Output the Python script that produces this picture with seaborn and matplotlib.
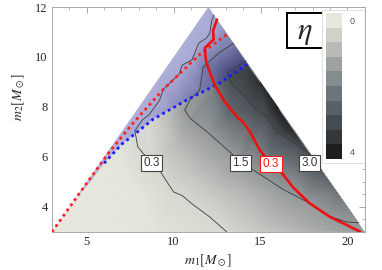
import numpy as np
import matplotlib
matplotlib.use("Agg")
import matplotlib.pyplot as plt
import matplotlib.tri as mtri
from matplotlib.colors import LinearSegmentedColormap, ListedColormap
from matplotlib.patches import Polygon, Rectangle
from matplotlib.ticker import MultipleLocator
import seaborn as sns

sns.set_theme(style="white")
plt.rcParams["font.family"] = ["Liberation Serif", "DejaVu Serif"]
plt.rcParams["mathtext.fontset"] = "stix"

# ---------------------------
# DATA
# ---------------------------
dom_m1 = [3, 12, 21]
dom_m2 = [3, 12, 3]

# eta contour lines
c03_m1 = [13.06, 12.08, 11.1, 10.5, 10.0, 9.2, 8.75, 8.23, 7.94, 7.77, 8.2, 8.6, 9.2, 9.4,
          10.3, 10.5, 11.05, 11.45, 11.9, 12.08, 12.2, 12.32]
c03_m2 = [3.0, 3.6, 4.1, 4.45, 4.6, 5.45, 5.76, 6.16, 6.4, 7.05, 7.48, 7.7, 8.28, 8.7,
          9.3, 9.68, 9.88, 10.56, 10.76, 10.96, 11.48, 11.68]
c15_m1 = [20.65, 19.95, 19.0, 17.8, 16.3, 15.2, 14.4, 13.86, 13.3, 12.0, 10.93, 10.64,
          10.93, 11.5, 11.6, 11.7, 12.6, 13.45]
c15_m2 = [3.36, 3.4, 3.62, 4.16, 4.7, 5.2, 5.56, 5.76, 6.16, 6.96, 7.56, 7.88,
          8.28, 8.68, 9.16, 9.6, 10.16, 10.55]
c30_m1 = [18.24, 17.7, 16.85, 15.9, 15.35, 14.6, 13.9, 13.3, 13.1, 14.15]
c30_m2 = [5.76, 6.2, 6.6, 7.0, 7.6, 8.0, 8.56, 8.96, 9.36, 9.85]
levels = [0.3, 1.5, 3.0]

# extra eta samples (edges and interior)
anc_m1 = [3, 6, 9, 11, 15, 17.5, 19.5, 21, 5, 7, 8.5, 10, 11.5, 12, 19.5, 17, 16, 15, 12.9,
          6, 8, 7, 9.9, 10.2, 11.2, 12.0, 14.5, 17.0, 19.0, 15.5, 13.0, 12.3, 12.4, 12.0, 16.2, 14.3]
anc_m2 = [3, 3, 3, 3, 3, 3, 3, 3, 5, 7, 8.5, 10, 11.5, 12, 4.5, 7, 8, 9, 11.1,
          4, 4.5, 5.5, 7.6, 6.5, 5.2, 4.5, 4.5, 5.3, 4.5, 6.0, 7.5, 8.5, 9.6, 10.4, 7.6, 9.4]
anc_eta = [0, 0, 0.08, 0.18, 0.6, 1.0, 1.3, 1.55, 0, 0.1, 0.1, 0.12, 0.15, 0.2, 2.2, 3.8, 4.0, 3.7, 0.9,
           0, 0.05, 0.05, 0.95, 0.86, 0.67, 0.55, 1.0, 2.0, 2.0, 2.2, 2.2, 2.05, 2.05, 0.8, 3.8, 3.4]

# red contour (other quantity, level 0.3)
red_m1 = [12.5, 12.27, 12.3, 11.8, 11.85, 11.97, 12.37, 12.95, 13.7, 14.0, 14.4, 14.95, 15.6,
          16.1, 16.85, 17.8, 19.0, 19.95, 20.75]
red_m2 = [11.5, 11.05, 10.7, 10.36, 9.9, 9.6, 8.88, 8.2, 7.56, 7.4, 7.0, 6.28, 5.72,
          5.48, 4.8, 4.16, 3.6, 3.28, 3.0]

# dotted boundaries
rdot_m1 = [3.0, 5.0, 6.3, 7.6, 9.4, 11.5, 13.06]
rdot_m2 = [3.0, 4.95, 6.2, 7.3, 8.7, 10.1, 10.9]
bdot_m1 = [6.0, 7.0, 8.06, 8.8, 10.76, 12.66, 14.27]
bdot_m2 = [5.75, 6.5, 7.08, 7.5, 8.28, 8.96, 9.73]
band_m1 = [4.3, 5.2]
band_m2 = [4.3, 5.0]

swatches = ["#e6e7dd", "#cfd1cb", "#b8bab6", "#9ea2a2", "#868c8e",
            "#6e757a", "#5a6066", "#464b50", "#33373a", "#1e1e1e"]
cbar_labels = ["0", "4"]

# ---------------------------
# PLOT
# ---------------------------
fig = plt.figure(figsize=(3.82, 2.70), dpi=100)
ax = fig.add_axes([0.136, 0.141, 0.819, 0.833])

fx = c03_m1 + c15_m1 + c30_m1 + anc_m1
fy = c03_m2 + c15_m2 + c30_m2 + anc_m2
fz = [levels[0]] * len(c03_m1) + [levels[1]] * len(c15_m1) + [levels[2]] * len(c30_m1) + anc_eta

cmap = LinearSegmentedColormap.from_list("graytones", swatches)
tri = mtri.Triangulation(fx, fy)
tpc = ax.tripcolor(tri, np.array(fz), cmap=cmap, vmin=0, vmax=4, shading="gouraud", zorder=1)
domain = Polygon(np.column_stack([dom_m1, dom_m2]), closed=True, transform=ax.transData)
tpc.set_clip_path(domain)

# blue shaded band: lower curve, then up the right edge to the apex, back down the diagonal
poly_x = band_m1 + bdot_m1 + [dom_m1[1]]
poly_y = band_m2 + bdot_m2 + [dom_m2[1]]
ax.fill(poly_x, poly_y, color=(0.25, 0.25, 0.85), alpha=0.3, lw=0, zorder=2)

for cx, cy in [(c03_m1, c03_m2), (c15_m1, c15_m2), (c30_m1, c30_m2)]:
    ax.plot(cx, cy, color="#3c3c3c", lw=0.6, zorder=3)

ax.plot(rdot_m1, rdot_m2, color="#ff2020", lw=2.0, ls=(0, (1, 1.3)), zorder=4)
ax.plot(bdot_m1, bdot_m2, color="#1a1aff", lw=2.0, ls=(0, (1, 1.3)), zorder=4)
ax.plot(red_m1, red_m2, color="#ee1111", lw=1.9, zorder=5)

lab_kw = dict(ha="center", va="center", fontsize=8.5, family=["Liberation Sans", "DejaVu Sans"], zorder=6)
for x, y, s in [(8.75, 5.76, "0.3"), (13.86, 5.76, "1.5"), (17.83, 5.76, "3.0")]:
    ax.text(x, y, s, color="#333333",
            bbox=dict(boxstyle="square,pad=0.2", fc="white", ec="#444444", lw=0.8), **lab_kw)
ax.text(15.6, 5.72, "0.3", color="#ff1a1a",
        bbox=dict(boxstyle="square,pad=0.2", fc="white", ec="#ff1a1a", lw=0.8), **lab_kw)

ax.set_xlim(3, 21)
ax.set_ylim(3, 12)
ax.xaxis.set_major_locator(MultipleLocator(5))
ax.xaxis.set_minor_locator(MultipleLocator(1))
ax.yaxis.set_major_locator(MultipleLocator(2))
ax.yaxis.set_minor_locator(MultipleLocator(0.5))
ax.tick_params(which="both", direction="in", top=True, right=True, color="#999999",
               labelsize=9, pad=3)
ax.tick_params(which="major", length=4, width=0.6)
ax.tick_params(which="minor", length=2, width=0.5)
for sp in ax.spines.values():
    sp.set_color("#aaaaaa")
    sp.set_linewidth(0.7)
ax.set_xlabel(r"$m_1[M_\odot]$", fontsize=10, labelpad=3)
ax.set_ylabel(r"$m_2[M_\odot]$", fontsize=10, labelpad=3)
ax.yaxis.set_label_coords(-0.08, 0.6)

# eta box
ax.add_patch(Rectangle((0.751, 0.818), 0.115, 0.155, transform=ax.transAxes,
                       fc="white", ec="black", lw=1.4, zorder=7))
ax.text(0.808, 0.885, r"$\eta$", transform=ax.transAxes, fontsize=22,
        ha="center", va="center", zorder=8)

# colour legend
ax.add_patch(Rectangle((0.862, 0.307), 0.138, 0.68, transform=ax.transAxes,
                       fc="white", ec="#e0e0e0", lw=0.7, zorder=7))
cax = ax.inset_axes([0.875, 0.324, 0.051, 0.649], zorder=8)
cax.imshow(np.arange(len(swatches)).reshape(-1, 1), cmap=ListedColormap(swatches), aspect="auto")
cax.set_xticks([])
cax.yaxis.tick_right()
cax.set_yticks([0, len(swatches) - 1])
cax.set_yticklabels(cbar_labels, fontsize=6.5, color="#555555", family=["Liberation Sans", "DejaVu Sans"])
cax.tick_params(axis="y", length=0, pad=6)
for sp in cax.spines.values():
    sp.set_visible(False)

fig.savefig("out.png", dpi=100)
